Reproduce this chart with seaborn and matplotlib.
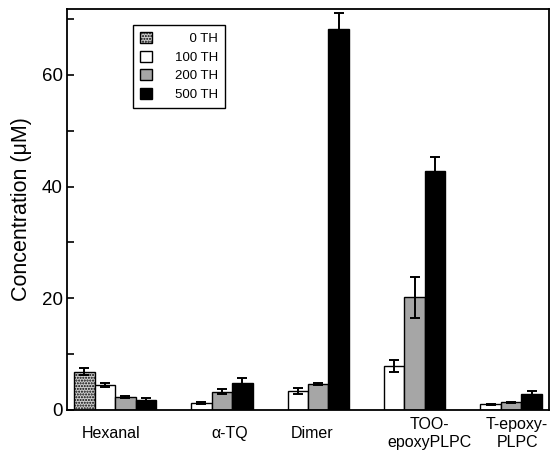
import numpy as np
import pandas as pd
import matplotlib
matplotlib.use("Agg")
import matplotlib.pyplot as plt
from matplotlib.patches import Patch
from matplotlib.ticker import MultipleLocator
import seaborn as sns

# ---------------- data ----------------
categories = ["Hexanal", "α-TQ", "Dimer", "TOO-\nepoxyPLPC", "T-epoxy-\nPLPC"]
levels = ["0 TH", "100 TH", "200 TH", "500 TH"]
nan = np.nan
th0 = [6.85, nan, nan, nan, nan]
th100 = [4.45, 1.3, 3.45, 7.85, 1.05]
th200 = [2.35, 3.25, 4.6, 20.2, 1.35]
th500 = [1.8, 4.75, 68.2, 42.8, 2.95]
err0 = [0.6, nan, nan, nan, nan]
err100 = [0.35, 0.2, 0.5, 1.07, 0.1]
err200 = [0.15, 0.45, 0.2, 3.7, 0.1]
err500 = [0.4, 1.0, 2.9, 2.5, 0.45]
yticks_major = [0, 20, 40, 60]

# ---------------- styling ----------------
colors = ["#cfcfcf", "#ffffff", "#a6a6a6", "#000000"]
label_shift = [-0.04, 0.19, 0.04, 0.26, 0.17]

sns.set_theme(style="white")
plt.rcParams["font.family"] = ["Liberation Sans", "DejaVu Sans"]
plt.rcParams["text.color"] = "black"
plt.rcParams["axes.labelcolor"] = "black"
plt.rcParams["xtick.color"] = "black"
plt.rcParams["ytick.color"] = "black"
plt.rcParams["hatch.linewidth"] = 1.0
plt.rcParams["hatch.color"] = "#333333"

rows = []
for lvl, vals, errs in zip(levels, [th0, th100, th200, th500], [err0, err100, err200, err500]):
    for c, v, e in zip(categories, vals, errs):
        if not np.isnan(v):
            rows.append({"cat": c, "level": lvl, "value": v, "err": e})
df = pd.DataFrame(rows)

fig = plt.figure(figsize=(5.5, 4.54), dpi=100)
ax = fig.add_axes([67 / 550, 44 / 454, 482 / 550, 401 / 454])

sns.barplot(data=df, x="cat", y="value", hue="level", order=categories,
            hue_order=levels, palette=colors, width=0.85, errorbar=None,
            edgecolor="black", linewidth=1.0, saturation=1, legend=False, ax=ax)

# hatch on 0 TH bars, error bars from patch geometry
for lvl, cont in zip(levels, ax.containers):
    present = set(df[df["level"] == lvl]["cat"])
    sub = df[df["level"] == lvl].set_index("cat").reindex(
        [c for c in categories if c in present])
    xs = [p.get_x() + p.get_width() / 2 for p in cont.patches]
    hs = [p.get_height() for p in cont.patches]
    if lvl == "0 TH":
        for p in cont.patches:
            p.set_hatch("......")
    ax.errorbar(xs, hs, yerr=sub["err"].values, fmt="none", ecolor="black",
                elinewidth=1.4, capsize=3.8, capthick=1.4, zorder=5)

ax.set_ylim(0, 71.8)
ax.set_xlim(-0.5, 4.5)
ax.set_yticks(yticks_major)
ax.yaxis.set_minor_locator(MultipleLocator(10))
ax.tick_params(axis="y", which="both", direction="in", length=5, width=1.2,
               left=True, right=False, labelsize=13.5, pad=3, colors="black")
ax.tick_params(axis="x", which="both", bottom=False, top=False, labelsize=11.5,
               pad=11, colors="black")

ax.set_xticks(np.arange(len(categories)) + np.array(label_shift))
ax.set_xticklabels(categories)
for t in ax.get_xticklabels():
    t.set_va("center")
    t.set_ha("center")
    t.set_multialignment("center")

ax.set_xlabel("")
ax.set_ylabel("Concentration (μM)", fontsize=15.5, labelpad=7, color="black")

for s in ax.spines.values():
    s.set_visible(True)
    s.set_color("black")
    s.set_linewidth(1.3)

handles = [Patch(facecolor=colors[0], edgecolor="black", hatch="......", linewidth=1.0),
           Patch(facecolor=colors[1], edgecolor="black", linewidth=1.0),
           Patch(facecolor=colors[2], edgecolor="black", linewidth=1.0),
           Patch(facecolor=colors[3], edgecolor="black", linewidth=1.0)]
# pad the shorter label with spaces (space = half a digit) so labels line up on the right
width_max = max(len(l) for l in levels)
leg_labels = [" " * (2 * (width_max - len(l))) + l for l in levels]
leg = ax.legend(handles, leg_labels, loc="upper left", bbox_to_anchor=(0.137, 0.960),
                borderaxespad=0, frameon=True, fancybox=False, edgecolor="black",
                framealpha=1, fontsize=9.5, handlelength=0.9, handleheight=0.9,
                labelspacing=0.42, borderpad=0.55, handletextpad=1.7,
                labelcolor="black")
leg.get_frame().set_linewidth(1.0)

fig.savefig("out.png", dpi=100)
